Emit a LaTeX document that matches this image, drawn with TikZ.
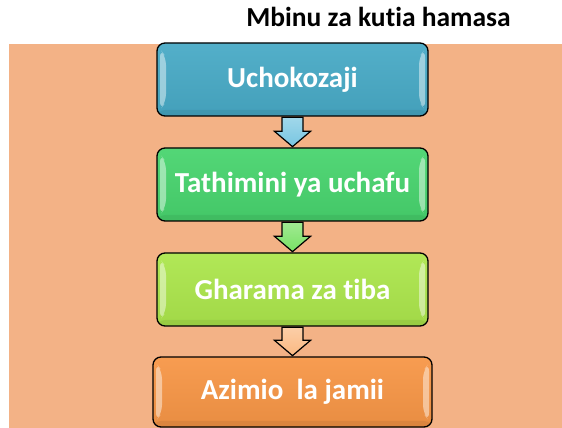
\documentclass[tikz,border=0pt]{standalone}
\usepackage{fontspec}
\setmainfont[Ligatures=NoCommon]{Carlito}
\usetikzlibrary{calc}
\definecolor{bgpeach}{RGB}{243,178,134}
\definecolor{cA}{RGB}{72,170,198}
\definecolor{cB}{RGB}{72,212,110}
\definecolor{cC}{RGB}{172,230,76}
\definecolor{cD}{RGB}{247,150,70}
\definecolor{aA}{RGB}{120,198,225}
\definecolor{aB}{RGB}{120,225,100}
\definecolor{aC}{RGB}{250,185,130}
\tikzset{
  x=1pt,y=1pt,
  stepbox/.style={draw=black, line width=1.3pt, rounded corners=8pt,
    minimum width=271pt, minimum height=73pt, inner sep=0pt,
    text=white, font=\fontsize{29}{31}\selectfont\bfseries,
    path picture={
      \fill[white,opacity=0.45]
        ([xshift=3pt,yshift=-6pt]path picture bounding box.north west) --
        ([xshift=9pt,yshift=-14pt]path picture bounding box.north west) --
        ([xshift=9pt,yshift=14pt]path picture bounding box.south west) --
        ([xshift=3pt,yshift=6pt]path picture bounding box.south west) -- cycle;
      \fill[white,opacity=0.45]
        ([xshift=-3pt,yshift=-6pt]path picture bounding box.north east) --
        ([xshift=-9pt,yshift=-14pt]path picture bounding box.north east) --
        ([xshift=-9pt,yshift=14pt]path picture bounding box.south east) --
        ([xshift=-3pt,yshift=6pt]path picture bounding box.south east) -- cycle;
      \fill[black,opacity=0.06]
        ([yshift=6pt]path picture bounding box.south west) rectangle
        (path picture bounding box.south east);
    }},
  blockarr/.style={draw=black, line width=1.2pt, line join=miter},
  titlestyle/.style={font=\fontsize{27.5}{29}\selectfont\bfseries, text=black, anchor=base, inner sep=0pt}
}
\begin{document}
\begin{tikzpicture}
\useasboundingbox (0,0) rectangle (562,428);
\fill[bgpeach] (9,0) rectangle (562,384);
\node[titlestyle] (title) at (378.5,401) {Mbinu za kutia hamasa};
\node[stepbox, top color=cA!94!white, bottom color=cA!94!black] (b1) at (292.5,348.5) {Uchokozaji};
\node[stepbox, top color=cB!94!white, bottom color=cB!94!black] (b2) at (292.5,243.5) {Tathimini ya uchafu};
\node[stepbox, top color=cC!94!white, bottom color=cC!94!black] (b3) at (292.5,138.5) {Gharama za tiba};
\node[stepbox, minimum width=279pt, minimum height=70pt, top color=cD!94!white, bottom color=cD!94!black] (b4) at (292.5,36) {Azimio\ \ la jamii};
\foreach \u/\v/\c in {b1/b2/aA, b2/b3/aB, b3/b4/aC}{
  \draw[blockarr, top color=\c!70!white, bottom color=\c] let \p1=(\u.south), \p2=(\v.north) in
    (\x1-10.5pt,\y1-0.7pt) -- (\x1-10.5pt,\y2+16pt) -- (\x1-18pt,\y2+16pt) -- (\x1,\y2+0.7pt)
    -- (\x1+18pt,\y2+16pt) -- (\x1+10.5pt,\y2+16pt) -- (\x1+10.5pt,\y1-0.7pt) -- cycle;
}
\end{tikzpicture}
\end{document}
